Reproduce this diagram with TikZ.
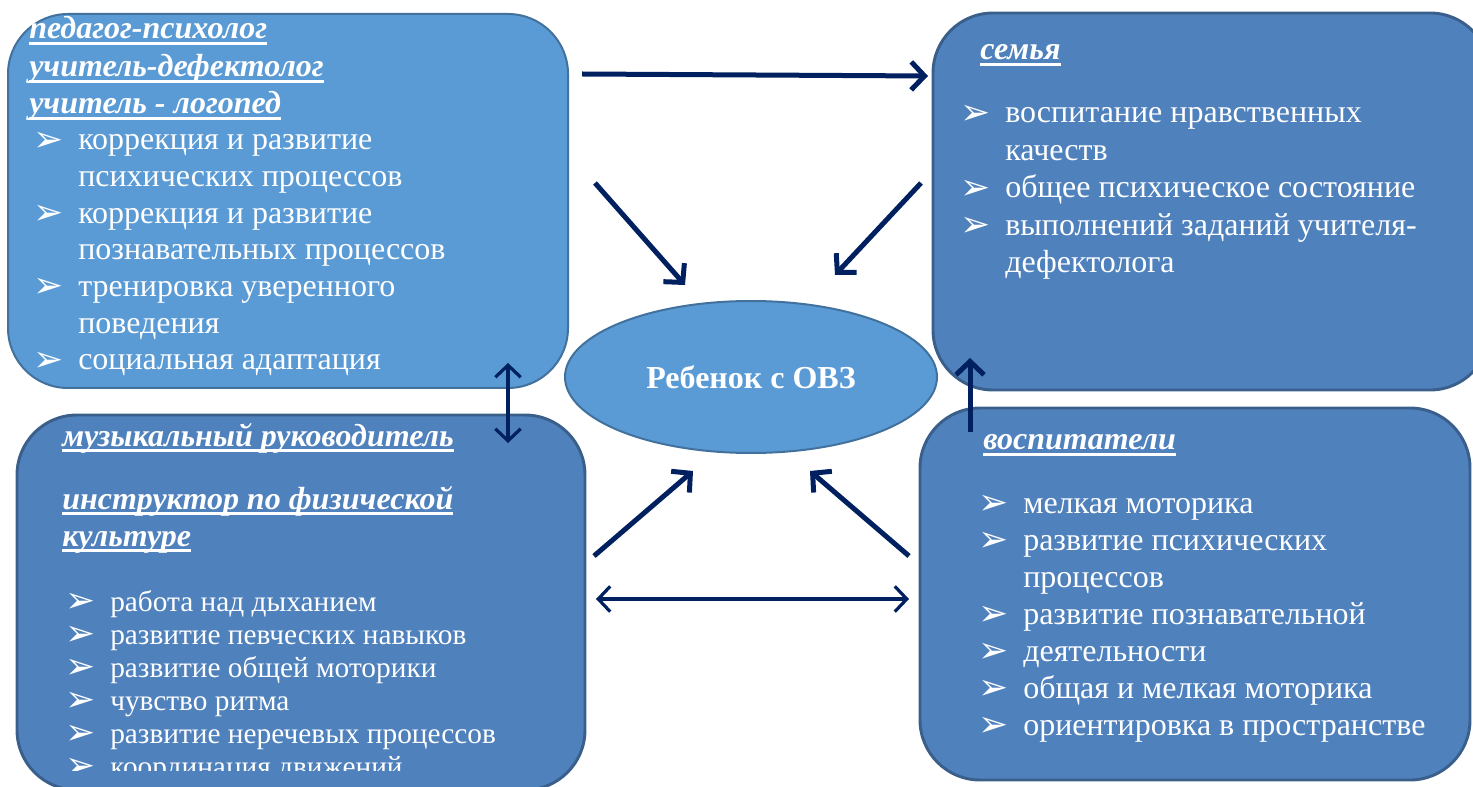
\documentclass[tikz,border=0pt]{standalone}
\usepackage{fontspec}
\setmainfont{Liberation Serif}
\newfontfamily\djv{DejaVu Sans}
\usetikzlibrary{arrows.meta,shapes.geometric}
\definecolor{lb}{HTML}{5B9BD5}
\definecolor{lbd}{HTML}{41719C}
\definecolor{db}{HTML}{4F81BD}
\definecolor{dbd}{HTML}{3A5F8B}
\definecolor{navy}{HTML}{002060}
\newcommand\bul{{\djv\fontsize{27}{27}\selectfont\raisebox{-1pt}{➢}}}
\newcommand\li[1]{\hbox{\makebox[33.75pt][l]{\bul}#1}}
\newcommand\lc[1]{\hbox{\hspace{33.75pt}#1}}
\newcommand\hul[1]{\setbox0\hbox{#1}\rlap{\rule[-4.5pt]{\wd0}{2pt}}\box0}
\newcommand\hd[1]{{\fontsize{24}{28}\selectfont\bfseries\itshape\hul{#1}}}
\tikzset{
  lbox/.style={draw=lbd, fill=lb, line width=1.5pt, rounded corners=45pt, inner sep=0pt},
  dbox/.style={draw=dbd, fill=db, line width=2.2pt, rounded corners=45pt, inner sep=0pt},
  txt/.style={text=white, inner sep=0pt, anchor=base west},
  big/.style={draw=navy, line width=3.75pt, -{Straight Barb[length=10pt,width=21pt]}},
  dbl/.style={draw=navy, line width=2.4pt, {Straight Barb[length=9pt,width=19pt]}-{Straight Barb[length=9pt,width=19pt]}}
}
\begin{document}
\begin{tikzpicture}[x=0.75pt,y=-0.75pt]
\useasboundingbox (0,0) rectangle (1473,787);
\clip (0,0) rectangle (1473,787);
% boxes
\node[lbox, minimum width=420pt, minimum height=280.5pt] (tl) at (288,201) {};
\node[dbox, minimum width=417.75pt, minimum height=282.75pt] (tr) at (1211.5,201.5) {};
\node[dbox, minimum width=426pt, minimum height=281.25pt] (bl) at (301,602.5) {};
\node[dbox, minimum width=412.5pt, minimum height=279pt] (br) at (1195,594) {};
\node[ellipse, draw=lbd, fill=lb, line width=1.5pt, minimum width=279pt, minimum height=114pt, inner sep=0pt, text=white, font=\fontsize{24}{28}\selectfont\bfseries] (child) at (751,377) {Ребенок с ОВЗ};
% top-left text
\node[txt] (tlh1) at (29,39) {\hd{педагог-психолог}};
\node[txt] (tlh2) at (29,77) {\hd{учитель-дефектолог}};
\node[txt] (tlh3) at (29,114) {\hd{учитель - логопед}};
\node[txt] (tll) at (33,150) {\vtop{\fontsize{24}{27.5}\selectfont
  \li{коррекция и развитие}
  \lc{психических процессов}
  \li{коррекция и развитие}
  \lc{познавательных процессов}
  \li{тренировка уверенного}
  \lc{поведения}
  \li{социальная адаптация}}};
% top-right text
\node[txt] (trh) at (980,60) {\hd{семья}};
\node[txt] (trl) at (960,123) {\vtop{\fontsize{24}{28.1}\selectfont
  \li{воспитание нравственных}
  \lc{качеств}
  \li{общее психическое состояние}
  \li{выполнений заданий учителя-}
  \lc{дефектолога}}};
% bottom-right text
\node[txt] (brh) at (983,450) {\hd{воспитатели}};
\node[txt] (brl) at (978,513) {\vtop{\fontsize{24}{27.75}\selectfont
  \li{мелкая моторика}
  \li{развитие психических}
  \lc{процессов}
  \li{развитие познавательной}
  \li{деятельности}
  \li{общая и мелкая моторика}
  \li{ориентировка в пространстве}}};
% bottom-left text
\node[txt] (blh1) at (62,446) {\hd{музыкальный руководитель}};
\node[txt] (blh2) at (62,509) {\hd{инструктор по физической}};
\node[txt] (blh3) at (62,546) {\hd{культуре}};
\begin{scope}
\clip (0,0) rectangle (1473,770);
\node[txt] (bll) at (65,611) {\vtop{\fontsize{22}{24.75}\selectfont
  \li{работа над дыханием}
  \li{развитие певческих навыков}
  \li{развитие общей моторики}
  \li{чувство ритма}
  \li{развитие неречевых процессов}
  \li{координация движений}}};
\end{scope}
% arrow end points
\coordinate (a1s) at (582,74);  \coordinate (a1e) at (928,76);
\coordinate (a2s) at (595,183); \coordinate (a2e) at (685,285);
\coordinate (a3s) at (921,183); \coordinate (a3e) at (835,275);
\coordinate (a4s) at (508,363); \coordinate (a4e) at (508,443);
\coordinate (a5s) at (970,432); \coordinate (a5e) at (970,358);
\coordinate (a6s) at (594,556); \coordinate (a6e) at (693,471);
\coordinate (a7s) at (909,556); \coordinate (a7e) at (810,471);
\coordinate (a8s) at (596,599); \coordinate (a8e) at (909,599);
\draw[big] (a1s) -- (a1e);
\draw[big] (a2s) -- (a2e);
\draw[big] (a3s) -- (a3e);
\draw[dbl] (a4s) -- (a4e);
\draw[big] (a5s) -- (a5e);
\draw[big] (a6s) -- (a6e);
\draw[big] (a7s) -- (a7e);
\draw[dbl] (a8s) -- (a8e);
\end{tikzpicture}
\end{document}
